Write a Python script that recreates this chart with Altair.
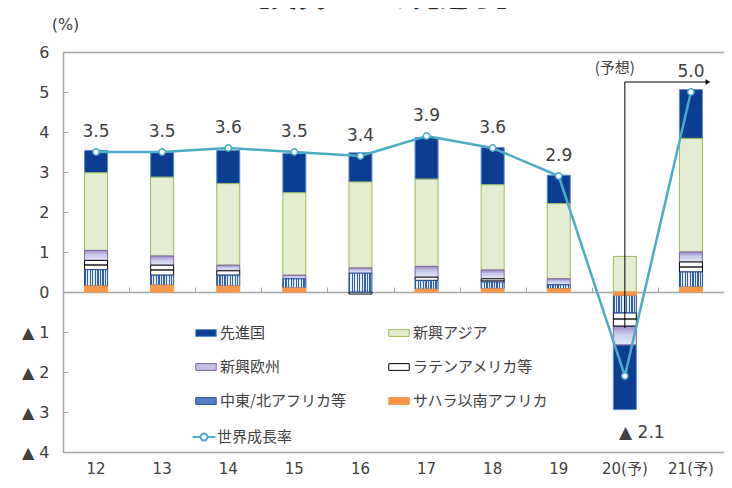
import altair as alt
import pandas as pd

# ---------------- data ----------------
CATS = ["12", "13", "14", "15", "16", "17", "18", "19", "20(予)", "21(予)"]
SERIES = ["先進国", "新興アジア", "新興欧州", "ラテンアメリカ等", "中東/北アフリカ等", "サハラ以南アフリカ"]
ADV = [0.56, 0.62, 0.83, 0.98, 0.73, 1.04, 0.93, 0.71, -1.62, 1.22]
ASIA = [1.94, 1.97, 2.04, 2.06, 2.15, 2.18, 2.13, 1.88, 0.89, 2.84]
EUR = [0.25, 0.23, 0.14, 0.09, 0.13, 0.27, 0.22, 0.15, -0.47, 0.25]
LAT = [0.23, 0.25, 0.11, 0.0, -0.05, 0.08, 0.08, 0.0, -0.33, 0.25]
MENA = [0.41, 0.25, 0.27, 0.23, 0.47, 0.22, 0.17, 0.10, -0.44, 0.38]
SSA = [0.15, 0.17, 0.15, 0.10, 0.0, 0.07, 0.08, 0.08, -0.08, 0.12]
STACK_RANK = [5, 4, 3, 2, 1, 0]  # 0 = bottom of stack
# legend reading order (filled column by column: left column, then right column)
LEGEND_ORDER = ["先進国", "新興欧州", "中東/北アフリカ等", "新興アジア", "ラテンアメリカ等", "サハラ以南アフリカ"]

WORLD_NAME = "世界成長率"
WORLD = [3.5, 3.5, 3.6, 3.5, 3.4, 3.9, 3.6, 2.9, -2.1, 5.0]
WORLD_LABELS = ["3.5", "3.5", "3.6", "3.5", "3.4", "3.9", "3.6", "2.9", "▲ 2.1", "5.0"]

Y_TICKS = [-4, -3, -2, -1, 0, 1, 2, 3, 4, 5, 6]
TITLE = "【実質GDPの見通し】"
Y_TITLE = "(%)"
FORECAST_LABEL = "(予想)"
FORECAST_START = "20(予)"
FORECAST_END = "21(予)"
FORECAST_Y = 5.25
FORECAST_BOTTOM = -0.9
FORECAST_LABEL_Y = 5.6

# ---------------- styles ----------------
TXT = "#404040"
AXC = "#A6A6A6"
LINEC = "#4BACC6"
NUMFONT = "DejaVu Sans, Noto Sans CJK JP"
JPFONT = "Noto Sans CJK JP"
FILL_OF = {"先進国": "#0B3D91", "新興アジア": "#E4EDD2", "新興欧州": "#C3C0E4",
           "ラテンアメリカ等": "#FFFFFF", "中東/北アフリカ等": "#5A7EC4", "サハラ以南アフリカ": "#F79646"}
STROKE_OF = {"先進国": "#5B8BD0", "新興アジア": "#9BBB59", "新興欧州": "#8064A2",
             "ラテンアメリカ等": "#000000", "中東/北アフリカ等": "#1F4E9E", "サハラ以南アフリカ": "#F79646"}
PW, PH = 661, 400

EUR_GRAD = {"gradient": "linear", "x1": 0, "y1": 0, "x2": 0, "y2": 1,
            "stops": [{"offset": 0, "color": "#9B8AC6"},
                      {"offset": 0.45, "color": "#C8CBEB"},
                      {"offset": 1, "color": "#E6EAF8"}]}
stripe_stops = []
for k in range(9):
    a, b, c = k / 9, (k + 0.5) / 9, (k + 1) / 9
    stripe_stops += [{"offset": a, "color": "#2F5FB3"}, {"offset": b, "color": "#2F5FB3"},
                     {"offset": b, "color": "#E8EEF8"}, {"offset": c, "color": "#E8EEF8"}]
MENA_GRAD = {"gradient": "linear", "x1": 0, "y1": 0, "x2": 1, "y2": 0, "stops": stripe_stops}
LAT_GRAD = {"gradient": "linear", "x1": 0, "y1": 0, "x2": 0, "y2": 1,
            "stops": [{"offset": 0, "color": "#FFFFFF"}, {"offset": 0.42, "color": "#FFFFFF"},
                      {"offset": 0.42, "color": "#555555"}, {"offset": 0.58, "color": "#555555"},
                      {"offset": 0.58, "color": "#FFFFFF"}, {"offset": 1, "color": "#FFFFFF"}]}

rows = []
for name, vals, rank in zip(SERIES, [ADV, ASIA, EUR, LAT, MENA, SSA], STACK_RANK):
    for c, v in zip(CATS, vals):
        rows.append({"cat": c, "series": name, "value": v, "rank": rank})
bars_df = pd.DataFrame(rows)
world_df = pd.DataFrame({"cat": CATS, "world": WORLD, "label": WORLD_LABELS, "name": WORLD_NAME})
annot_df = pd.DataFrame({"start": [FORECAST_START], "end": [FORECAST_END], "y": [FORECAST_Y],
                         "bottom": [FORECAST_BOTTOM], "ly": [FORECAST_LABEL_Y], "text": [FORECAST_LABEL],
                         "title": [TITLE]})

xsc = alt.Scale(domain=CATS, paddingInner=0, paddingOuter=0)
ysc = alt.Scale(domain=[-4, 6], nice=False, zero=False)

RECT = "M-1,-0.33H1V0.33H-1Z"
legend_bars = alt.Legend(orient="none", legendX=132, legendY=270, columns=2, title=None,
                         symbolType=RECT, symbolSize=420, symbolStrokeWidth=1,
                         labelFont=JPFONT, labelFontSize=15, labelColor=TXT,
                         rowPadding=15, columnPadding=40, labelOffset=3, padding=0)

bars = alt.Chart(bars_df).transform_filter("datum.value != 0").mark_bar(size=23, strokeWidth=1).encode(
    x=alt.X("cat:N", sort=CATS, scale=xsc,
            axis=alt.Axis(orient="bottom", title=None, labelAngle=0, ticks=False, domain=True,
                          domainColor=AXC, domainWidth=1.5, labelPadding=9, labelFontSize=15,
                          labelFont=NUMFONT, labelColor=TXT)),
    y=alt.Y("value:Q", stack="zero", scale=ysc,
            axis=alt.Axis(values=Y_TICKS, grid=False, ticks=False, domainColor=AXC, domainWidth=1.5,
                          labelExpr="datum.value < 0 ? '▲ ' + abs(datum.value) : '' + datum.value",
                          labelFontSize=16, labelFont=NUMFONT, labelColor=TXT, labelPadding=14,
                          title=Y_TITLE, titleAngle=0, titleX=2, titleY=-28, titleAlign="center",
                          titleBaseline="middle", titleFontSize=16, titleFontWeight="normal",
                          titleFont=NUMFONT, titleColor=TXT)),
    fill=alt.Fill("series:N",
                  scale=alt.Scale(domain=LEGEND_ORDER, range=[FILL_OF[s] for s in LEGEND_ORDER]),
                  legend=legend_bars,
                  condition=[{"test": "datum.series === '新興欧州'", "value": EUR_GRAD},
                             {"test": "datum.series === '中東/北アフリカ等'", "value": MENA_GRAD},
                             {"test": "datum.series === 'ラテンアメリカ等'", "value": LAT_GRAD}]),
    stroke=alt.Stroke("series:N",
                      scale=alt.Scale(domain=LEGEND_ORDER, range=[STROKE_OF[s] for s in LEGEND_ORDER]),
                      legend=legend_bars),
    order=alt.Order("rank:Q", sort="ascending"),
)

LINE_SYM = "M-1.3,0H-0.4M0.4,0H1.3M-0.4,0A0.4,0.4 0 1 0 0.4,0A0.4,0.4 0 1 0 -0.4,0"
line = alt.Chart(world_df).mark_line(strokeWidth=2.5).encode(
    x=alt.X("cat:N", sort=CATS, scale=xsc,
            axis=alt.Axis(orient="top", offset=-240, labels=False, title=None, ticks=True,
                          tickBand="extent", tickSize=5, tickColor=AXC, domainColor=AXC,
                          domainWidth=1.5, grid=False)),
    y=alt.Y("world:Q", scale=ysc,
            axis=alt.Axis(orient="right", offset=-PW, values=Y_TICKS, labels=False, title=None,
                          domain=False, ticks=True, tickSize=5, tickColor=AXC, grid=False)),
    color=alt.Color("name:N", scale=alt.Scale(range=[LINEC]),
                    legend=alt.Legend(orient="none", legendX=131, legendY=375, title=None,
                                      symbolType=LINE_SYM, symbolSize=300, symbolStrokeWidth=2,
                                      symbolFillColor="white", labelFont=JPFONT, labelFontSize=15,
                                      labelColor=TXT, labelOffset=3, padding=0)),
)

pts = alt.Chart(world_df).mark_point(filled=True, fill="white", stroke=LINEC, strokeWidth=1.5,
                                     size=40, opacity=1).encode(
    x=alt.X("cat:N", sort=CATS, scale=xsc, axis=None),
    y=alt.Y("world:Q", scale=ysc, axis=None),
)

labels_pos = alt.Chart(world_df).transform_filter("datum.world >= 0").mark_text(
    dy=-20, fontSize=17, font=NUMFONT, color=TXT).encode(
    x=alt.X("cat:N", sort=CATS, scale=xsc,
            axis=alt.Axis(orient="top", labels=False, ticks=False, title=None, domainColor=AXC,
                          domainWidth=1.5, grid=False)),
    y=alt.Y("world:Q", scale=ysc, axis=None),
    text="label:N",
)
labels_neg = alt.Chart(world_df).transform_filter("datum.world < 0").mark_text(
    dy=57, dx=17, fontSize=17, font=NUMFONT, color=TXT).encode(
    x=alt.X("cat:N", sort=CATS, scale=xsc, axis=None),
    y=alt.Y("world:Q", scale=ysc, axis=None),
    text="label:N",
)

base_a = alt.Chart(annot_df)
vrule = base_a.mark_rule(color="black", strokeWidth=1).encode(
    x=alt.X("start:N", sort=CATS, scale=xsc, axis=None),
    y=alt.Y("y:Q", scale=ysc, axis=None), y2="bottom:Q")
hrule = base_a.mark_rule(color="black", strokeWidth=1, x2Offset=16).encode(
    x=alt.X("start:N", sort=CATS, scale=xsc, axis=None), x2="end:N",
    y=alt.Y("y:Q", scale=ysc, axis=None))
arrow = base_a.mark_point(shape="triangle-right", filled=True, color="black", size=30,
                          xOffset=17, opacity=1).encode(
    x=alt.X("end:N", sort=CATS, scale=xsc, axis=None),
    y=alt.Y("y:Q", scale=ysc, axis=None))
flabel = base_a.mark_text(dx=-10, fontSize=15, font=JPFONT, color=TXT).encode(
    x=alt.X("start:N", sort=CATS, scale=xsc, axis=None),
    y=alt.Y("ly:Q", scale=ysc, axis=None), text="text:N")
title = base_a.mark_text(fontSize=28, fontWeight="bold", font=JPFONT, color="#262626",
                         baseline="alphabetic").encode(
    x=alt.value(320), y=alt.value(-45), text="title:N")

chart = alt.layer(bars, line, pts, labels_pos, labels_neg, vrule, hrule, arrow, flabel, title).resolve_axis(
    x="independent", y="independent"
).resolve_legend(fill="shared", stroke="shared").properties(
    width=PW, height=PH,
    autosize=alt.AutoSizeParams(type="none"),
    padding={"left": 55, "top": 44, "right": 0, "bottom": 28},
).configure_view(stroke=None).configure_axis(zindex=0)

chart.save("out.html", embed_options={"renderer": "svg", "actions": False})
